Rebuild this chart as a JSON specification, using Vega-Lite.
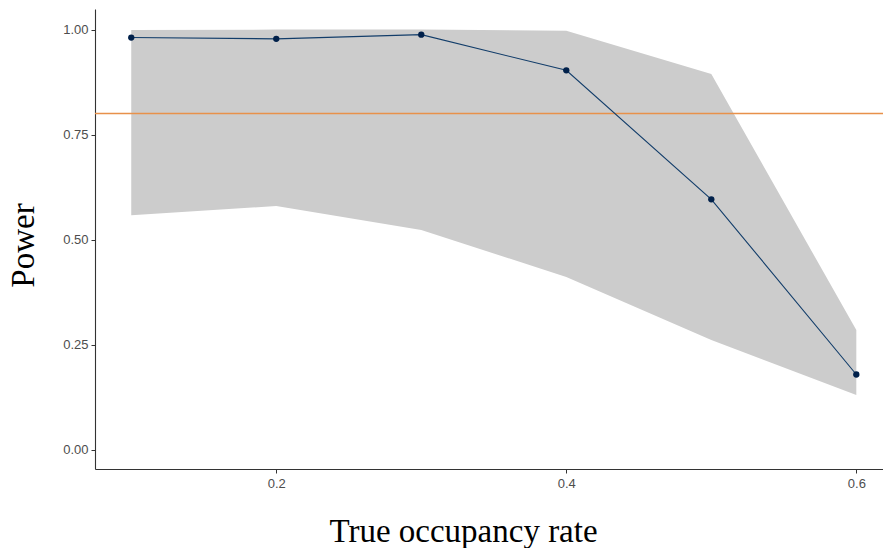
{
  "$schema": "https://vega.github.io/schema/vega-lite/v6.json",
  "width": 788,
  "height": 460,
  "autosize": {"type": "none"},
  "padding": {"left": 95, "top": 9, "right": 0, "bottom": 79},
  "background": "white",
  "config": {"view": {"stroke": null}},
  "data": {"values": [
    {"rate": 0.1, "power": 0.981, "lower": 0.558, "upper": 0.999},
    {"rate": 0.2, "power": 0.978, "lower": 0.580, "upper": 1.0},
    {"rate": 0.3, "power": 0.988, "lower": 0.523, "upper": 1.0},
    {"rate": 0.4, "power": 0.903, "lower": 0.411, "upper": 0.997},
    {"rate": 0.5, "power": 0.596, "lower": 0.261, "upper": 0.894},
    {"rate": 0.6, "power": 0.179, "lower": 0.130, "upper": 0.285}
  ]},
  "encoding": {
    "x": {"field": "rate", "type": "quantitative",
      "scale": {"domain": [0.075, 0.6184], "nice": false, "zero": false},
      "axis": {"values": [0.2, 0.4, 0.6], "format": ".1f", "title": "True occupancy rate",
        "grid": false, "domain": true, "domainColor": "#333333", "domainWidth": 1.1,
        "tickColor": "#333333", "tickSize": 4, "labelFont": "Liberation Sans", "labelFontSize": 13,
        "labelColor": "#4d4d4d", "labelPadding": 4, "titleFont": "Liberation Serif", "titleFontSize": 33,
        "titleFontWeight": "normal", "titleColor": "black",
        "titleX": 368, "titleY": 72.5, "titleAlign": "center", "titleBaseline": "alphabetic", "titleAnchor": null}}
  },
  "layer": [
    {"mark": {"type": "area", "color": "#cccccc", "opacity": 1},
     "encoding": {
       "y": {"field": "lower", "type": "quantitative",
         "scale": {"domain": [-0.046, 1.049], "nice": false, "zero": false},
         "axis": {"values": [0, 0.25, 0.5, 0.75, 1.0], "format": ".2f", "title": "Power",
           "grid": false, "domain": true, "domainColor": "#333333", "domainWidth": 1.1,
           "tickColor": "#333333", "tickSize": 4, "labelFont": "Liberation Sans", "labelFontSize": 13,
           "labelColor": "#4d4d4d", "labelPadding": 3, "titleFont": "Liberation Serif", "titleFontSize": 33,
           "titleFontWeight": "normal", "titleColor": "black",
           "titleAngle": 270, "titleX": -61.5, "titleY": 236, "titleAlign": "center", "titleBaseline": "alphabetic", "titleAnchor": null}},
       "y2": {"field": "upper"}
     }},
    {"mark": {"type": "rule", "color": "#E8914A", "strokeWidth": 1.5},
     "data": {"values": [{"threshold": 0.8}]},
     "encoding": {"y": {"field": "threshold", "type": "quantitative"}, "x": null}},
    {"mark": {"type": "line", "color": "#123d6a", "strokeWidth": 1.1},
     "encoding": {"y": {"field": "power", "type": "quantitative"}}},
    {"mark": {"type": "point", "filled": true, "color": "#00204a", "size": 40, "opacity": 1},
     "encoding": {"y": {"field": "power", "type": "quantitative"}}}
  ]
}
